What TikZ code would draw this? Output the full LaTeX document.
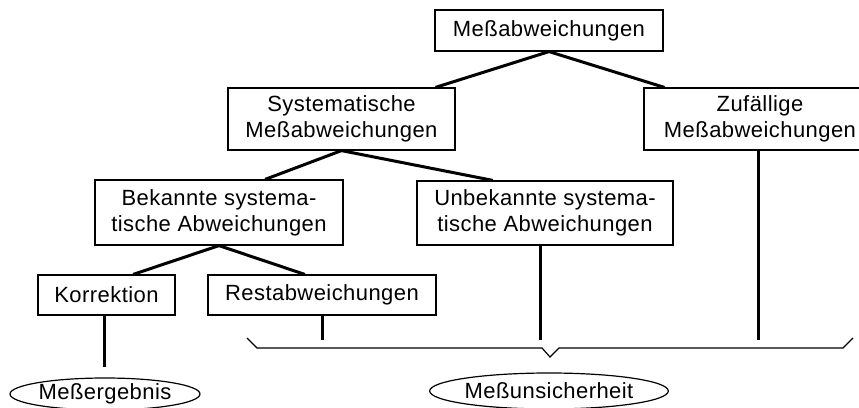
\documentclass[tikz,border=0pt]{standalone}
\usepackage{fontspec}
\setmainfont{Liberation Sans}[LetterSpace=2]
\usetikzlibrary{calc,shapes.geometric}
\begin{document}
\begin{tikzpicture}[x=1pt,y=-1pt,
  box/.style={draw,line width=1.2pt,inner sep=0pt,align=center,
    font=\fontsize{22}{26}\selectfont},
  oval/.style={draw,ellipse,line width=1.2pt,inner sep=0pt,
    font=\fontsize{22}{26}\selectfont},
  conn/.style={line width=3pt},
  brace/.style={line width=1.2pt}]
\useasboundingbox (0,0) rectangle (859,407);
\clip (0,0) rectangle (859,407);
\node[box,minimum width=228pt,minimum height=41pt] (top) at (549,30.5) {Meßabweichungen};
\node[box,minimum width=227pt,minimum height=62pt] (sys) at (341.5,119) {Systematische\\Meßabweichungen};
\node[box,minimum width=232pt,minimum height=62pt] (zuf) at (760,119) {Zufällige\\Meßabweichungen};
\node[box,minimum width=248pt,minimum height=65pt] (bek) at (219,212.5) {Bekannte systema-\\tische Abweichungen};
\node[box,minimum width=256pt,minimum height=64pt] (unb) at (545,213) {Unbekannte systema-\\tische Abweichungen};
\node[box,minimum width=137pt,minimum height=40pt] (kor) at (106.5,295) {Korrektion};
\node[box,minimum width=228pt,minimum height=40pt] (rest) at (322,295) {Restabweichungen};
\node[oval,minimum width=190pt,minimum height=32pt] (erg) at (105,394) {Meßergebnis};
\node[oval,minimum width=228pt,minimum height=36pt] (uns) at (549,391) {Meßunsicherheit};
% connectors
\draw[conn] ($(sys.north west)!0.912!(sys.north east)$) -- (top.south) -- ($(zuf.north west)!0.09!(zuf.north east)$);
\draw[conn] ($(bek.north west)!0.685!(bek.north east)$) -- (sys.south) -- ($(unb.north west)!0.297!(unb.north east)$);
\draw[conn] ($(kor.north west)!0.693!(kor.north east)$) -- (bek.south) -- ($(rest.north west)!0.425!(rest.north east)$);
\coordinate (korend) at (104,367);
\draw[conn] (kor.south -| korend) -- (korend);
\coordinate (restend) at (322,340);
\draw[conn] (rest.south -| restend) -- (restend);
\coordinate (unbend) at (540,340);
\draw[conn] (unb.south -| unbend) -- (unbend);
\coordinate (zufend) at (758,340);
\draw[conn] (zuf.south -| zufend) -- (zufend);
% brace
\coordinate (b1) at (247,338);
\coordinate (b2) at (257,348);
\coordinate (b3) at (542,348);
\coordinate (b4) at (550,357);
\coordinate (b5) at (559,348);
\coordinate (b6) at (843,348);
\coordinate (b7) at (853,338);
\draw[brace] (b1) -- (b2) -- (b3) -- (b4) -- (b5) -- (b6) -- (b7);
\end{tikzpicture}
\end{document}
